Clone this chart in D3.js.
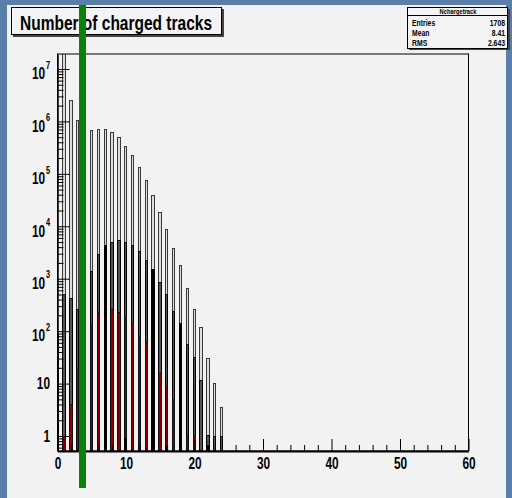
<!DOCTYPE html>
<html><head><meta charset="utf-8">
<script src="https://cdn.jsdelivr.net/npm/d3@7"></script>
<style>
body{margin:0;background:#5a7ea9;}
svg{display:block}
text{font-family:"Liberation Sans",Arial,Helvetica,sans-serif;font-weight:bold;fill:#000}
</style>
</head><body>
<svg id="c" width="512" height="498"></svg>
<script>
// ---- data ----
const bins        = [0,1,2,3,4,5,6,7,8,9,10,11,12,13,14,15,16,17,18,19,20,21,22,23,24];
const totalCounts = [85,3e7,2.6e6,1.07e6,7.5e5,6.9e5,7.3e5,7.3e5,6.4e5,5.0e5,3.47e5,2.3e5,1.34e5,7.7e4,4.0e4,1.86e4,8900,3800,1800,660,268,122,30.4,10.1,3.6];
const midCounts   = [85,510,425,262,900,1430,2970,4400,4970,5500,5050,4400,3440,2290,1540,870,515,243,141,56,31.7,11.7,1.05,1,1];
const redCounts   = [0,1,4,19,50,130,235,0,262,235,195,150,81,63,0,15.7,9.1,5.0,0,1.04,1.05,0,0,0,0];
const blackCounts = [85,0,0,0,0,0,0,4400,0,0,0.9,0,0,0,1540,0,0.65,0,141,0,0,0,0.67,0,0];
const xTicks = [0,10,20,30,40,50,60];
const yTicks = [1,10,1e2,1e3,1e4,1e5,1e6,1e7];
const titleText = "Number of charged tracks";
const statsTitle = "Nchargetrack";
const statsRows = [["Entries","1708"],["Mean","8.41"],["RMS","2.643"]];

const svg = d3.select("#c");
const fx0=57.5, fx1=468.5, fy0=54, fy1=451;
const x = d3.scaleLinear().domain([0,60]).range([fx0,fx1]);
const y = d3.scaleLog().domain([0.518,1.93e7]).range([fy1,fy0]);

function squeeze(sel,f){ sel.each(function(){ const w=this.getComputedTextLength(); this.setAttribute("textLength",w*f); this.setAttribute("lengthAdjust","spacingAndGlyphs");}); }

// background panel
svg.append("rect").attr("x",7).attr("y",5).attr("width",499).attr("height",493).attr("fill","#f2f2f2");

// clip
svg.append("clipPath").attr("id","fc").append("rect").attr("x",fx0).attr("y",fy0).attr("width",fx1-fx0).attr("height",fy1-fy0);
const g = svg.append("g").attr("clip-path","url(#fc)");

function layer(vals, fill, stroke){
  const d = bins.map((b,i)=>({b, v:vals[i]})).filter(d=>d.v>0);
  g.selectAll(null).data(d).enter().append("rect")
   .attr("x", d=>Math.round(x(d.b-0.28))+0.5)
   .attr("width", d=>Math.round(x(d.b+0.2))-Math.round(x(d.b-0.28))-1)
   .attr("y", d=>Math.round(y(d.v))+0.5)
   .attr("height", d=>Math.max(0, fy1-Math.round(y(d.v))-0.5))
   .attr("fill", fill).attr("stroke", stroke).attr("stroke-width",1);
}
layer(totalCounts, "#dcdcdc", "#3a3a3a");
layer(midCounts, "#555555", "#000");
layer(redCounts, "#8b0000", "#111");
layer(blackCounts, "#000", "#000");

// frame
svg.append("rect").attr("x",fx0).attr("y",fy0).attr("width",fx1-fx0).attr("height",fy1-fy0)
  .attr("fill","none").attr("stroke","#000").attr("stroke-width",1);

// x axis
const xMinor = d3.range(0,61,2).filter(v=>v%10!==0);
const gxm = svg.append("g").attr("transform",`translate(0,${fy1})`)
  .call(d3.axisBottom(x).tickValues(xMinor).tickSize(-6).tickFormat(""));
gxm.select(".domain").remove();
const gx = svg.append("g").attr("transform",`translate(0,${fy1})`)
  .call(d3.axisBottom(x).tickValues(xTicks).tickSize(-12).tickSizeOuter(0).tickPadding(7).tickFormat(d3.format("d")));
gx.select(".domain").attr("stroke-width",2);
gx.selectAll("text").style("font-size","16px");
gx.attr("font-family",null).attr("font-size",null);
squeeze(gx.selectAll("text"),0.74);

// y axis
const yMinor=[];
for(let k=-1;k<=7;k++){ for(let m=2;m<=9;m++){ const v=m*Math.pow(10,k); if(v>=0.518 && v<=1.93e7) yMinor.push(v);} }
const gym = svg.append("g").attr("transform",`translate(${fx0},0)`)
  .call(d3.axisLeft(y).tickValues(yMinor).tickSize(-6).tickFormat(""));
gym.select(".domain").remove();
const gy = svg.append("g").attr("transform",`translate(${fx0},0)`)
  .call(d3.axisLeft(y).tickValues(yTicks).tickSize(-12).tickSizeOuter(0).tickFormat(""));
gy.select(".domain").attr("stroke-width",1.5);
gy.attr("font-family",null).attr("font-size",null);

const yl = svg.append("g").attr("transform","translate(50,0) scale(0.74,1)");
yTicks.forEach(v=>{
  const e = Math.round(Math.log10(v));
  const yy = y(v);
  if(e<=1){
    yl.append("text").attr("x",0).attr("y",yy).attr("dy","0.36em").attr("text-anchor","end").style("font-size","16px").text(e===0?"1":"10");
  } else {
    const t=yl.append("text").attr("x",0).attr("y",yy+10.3).attr("text-anchor","end").style("font-size","16px");
    t.append("tspan").text("10");
    t.append("tspan").attr("dx",1).attr("dy",-10.5).style("font-size","10px").text(String(e));
  }
});

// title box
svg.append("rect").attr("x",13).attr("y",9).attr("width",211).attr("height",28).attr("fill","#444");
svg.append("rect").attr("x",11.5).attr("y",7.5).attr("width",210).attr("height",27).attr("fill","#f4f4f4").attr("stroke","#000");
svg.append("text").attr("x",20).attr("y",30).style("font-size","21px").attr("textLength",192).attr("lengthAdjust","spacingAndGlyphs").text(titleText);

// stats box
svg.append("rect").attr("x",409).attr("y",9).attr("width",101).attr("height",41).attr("fill","#444");
svg.append("rect").attr("x",407.5).attr("y",7.5).attr("width",100).attr("height",41).attr("fill","#f4f4f4").attr("stroke","#000");
svg.append("line").attr("x1",407.5).attr("x2",507.5).attr("y1",15.5).attr("y2",15.5).attr("stroke","#000");
const st=svg.append("text").attr("x",458).attr("y",11.5).attr("dy","0.36em").attr("text-anchor","middle").style("font-size","8px").text(statsTitle);
squeeze(st,0.72);
statsRows.forEach((r,i)=>{
  const yy=23+i*10;
  const a=svg.append("text").attr("x",412).attr("y",yy).attr("dy","0.36em").style("font-size","9.5px").text(r[0]);
  const b=svg.append("text").attr("x",505).attr("y",yy).attr("dy","0.36em").attr("text-anchor","end").style("font-size","9.5px").text(r[1]);
  squeeze(a,0.72); squeeze(b,0.72);
});

// green marker line
svg.append("rect").attr("x",79).attr("y",5).attr("width",7).attr("height",483).attr("fill","#0a820a");
</script>
</body></html>
